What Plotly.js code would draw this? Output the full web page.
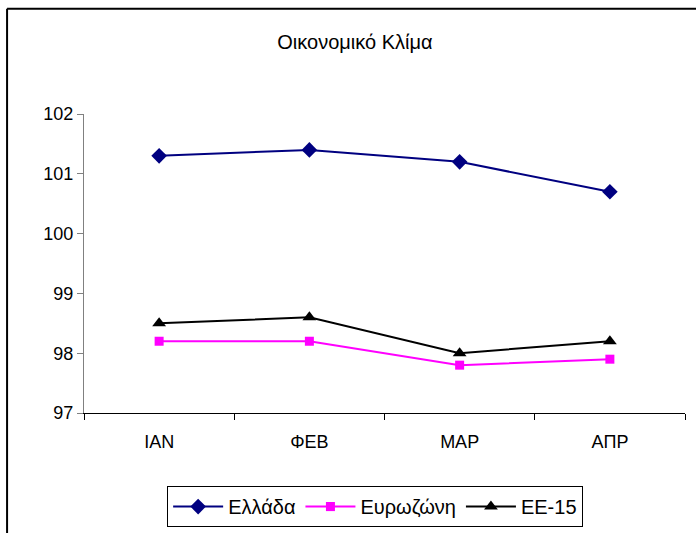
<!DOCTYPE html>
<html>
<head>
<meta charset="utf-8">
<script src="https://cdn.plot.ly/plotly-3.0.1.min.js"></script>
<style>
html,body{margin:0;padding:0;background:#fff;overflow:hidden;}
#chart{width:696px;height:533px;}
</style>
</head>
<body>
<div id="chart"></div>
<script>
var months = ["ΙΑΝ", "ΦΕΒ", "ΜΑΡ", "ΑΠΡ"];
var ellada = [101.3, 101.4, 101.2, 100.7];
var eurozoni = [98.2, 98.2, 97.8, 97.9];
var ee15 = [98.5, 98.6, 98.0, 98.2];
var yTicks = [97, 98, 99, 100, 101, 102];

var FONT = "Liberation Sans, Arial, sans-serif";

var traces = [
  {x: months, y: ellada, name: "Ελλάδα", type: "scatter", mode: "lines+markers",
   line: {color: "#000080", width: 2}, marker: {symbol: "diamond", size: 12, color: "#000080"}},
  {x: months, y: eurozoni, name: "Ευρωζώνη", type: "scatter", mode: "lines+markers",
   line: {color: "#FF00FF", width: 2}, marker: {symbol: "square", size: 9, color: "#FF00FF"}},
  {x: months, y: ee15, name: "ΕΕ-15", type: "scatter", mode: "lines+markers",
   line: {color: "#000000", width: 2}, marker: {symbol: "triangle-up", size: 12, color: "#000000"}}
];

var layout = {
  width: 696, height: 533,
  margin: {l: 84, r: 11, t: 114, b: 120},
  paper_bgcolor: "#ffffff", plot_bgcolor: "#ffffff",
  font: {family: FONT, size: 18, color: "#000"},
  title: {text: "Οικονομικό Κλίμα", font: {family: FONT, size: 20, color: "#000"},
          xref: "container", x: 0.51, xanchor: "center", yref: "container", y: 0.921, yanchor: "middle"},
  xaxis: {type: "category", range: [-0.5, 3.5], showgrid: false, zeroline: false, automargin: false,
          showline: true, linecolor: "#000", linewidth: 1,
          ticks: "outside", tickson: "boundaries", ticklen: 6, tickcolor: "#000",
          ticklabelstandoff: 12, tickfont: {family: FONT, size: 18}},
  yaxis: {range: [97, 102], tickvals: yTicks, showgrid: false, zeroline: false, automargin: false,
          showline: true, linecolor: "#808080", linewidth: 1,
          ticks: "outside", ticklen: 6, tickcolor: "#808080",
          tickfont: {family: FONT, size: 18}},
  showlegend: true,
  legend: {orientation: "h", xref: "container", x: 0.539, xanchor: "center",
           yref: "container", y: 0.088, yanchor: "top",
           bordercolor: "#000", borderwidth: 1, bgcolor: "#fff",
           font: {family: FONT, size: 20}, itemwidth: 50, tracegroupgap: 0},
  shapes: [
    {type: "line", xref: "paper", yref: "paper", x0: -0.128, x1: -0.128, y0: -1, y1: 1.352,
     line: {color: "#000", width: 2}},
    {type: "line", xref: "paper", yref: "paper", x0: -0.128, x1: 2, y0: 1.352, y1: 1.352,
     line: {color: "#000", width: 2}}
  ]
};

Plotly.newPlot("chart", traces, layout, {displayModeBar: false, staticPlot: true});
</script>
</body>
</html>
